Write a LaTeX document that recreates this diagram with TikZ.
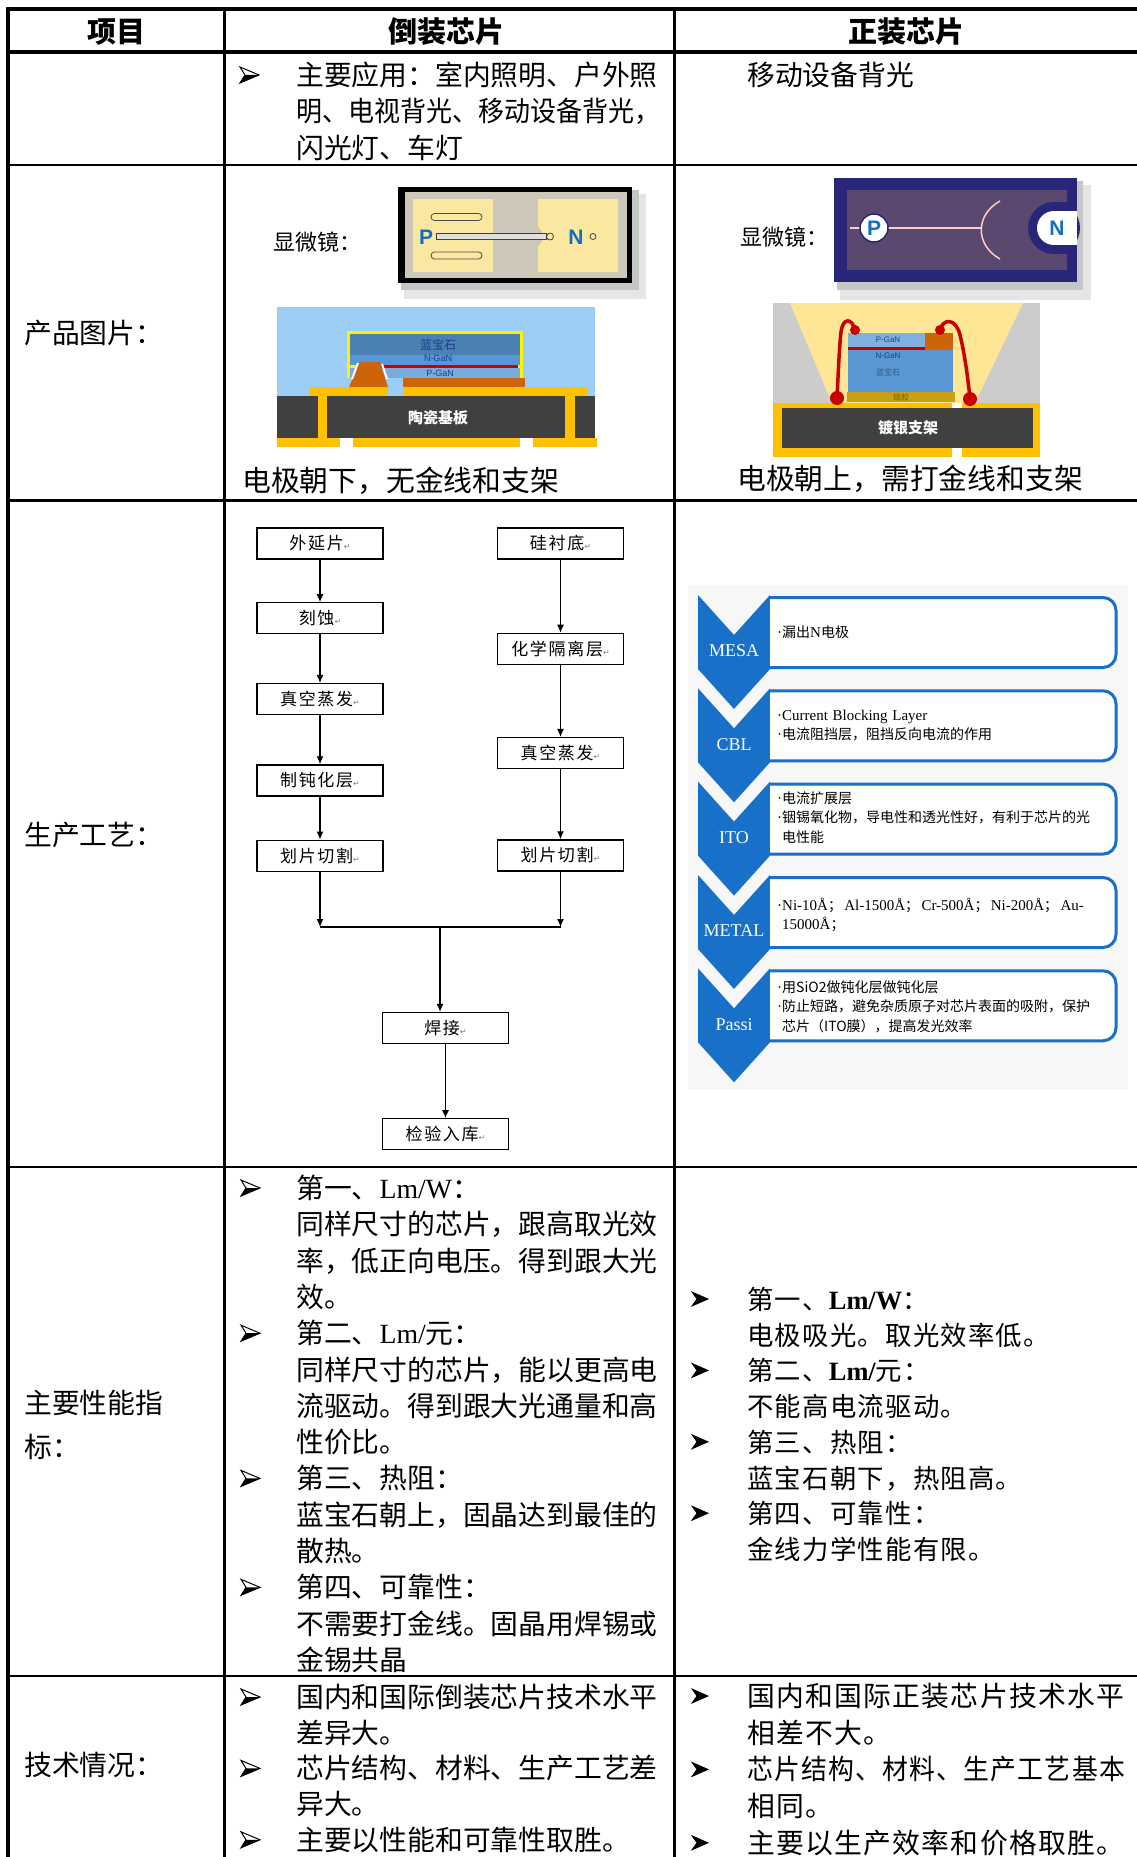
\documentclass[tikz,border=0pt]{standalone}
\usepackage{fontspec}
\usepackage{graphicx}
\setmainfont{Liberation Serif}
\newfontfamily\cjk{Noto Sans CJK SC}
\newfontfamily\cjkw[LetterSpace=4.7]{Noto Sans CJK SC}
\newfontfamily\flowfont[LetterSpace=10]{Noto Sans CJK SC}
\newfontfamily\lat{Liberation Serif}
\newfontfamily\sans{Liberation Sans}
\newfontfamily\sym{DejaVu Sans}
\usetikzlibrary{positioning,arrows.meta}

\definecolor{chevblue}{RGB}{24,112,200}
\definecolor{skyblue}{RGB}{155,205,245}
\definecolor{chipblue}{RGB}{88,150,212}
\definecolor{padorange}{RGB}{205,100,10}
\definecolor{goldy}{RGB}{255,192,0}
\definecolor{subgray}{RGB}{64,64,64}
\definecolor{padyellow}{RGB}{250,232,160}
\definecolor{wafergray}{RGB}{205,200,185}
\definecolor{navy}{RGB}{40,38,120}
\definecolor{mauve}{RGB}{90,72,110}
\definecolor{wirered}{RGB}{200,0,0}
\definecolor{conecol}{RGB}{255,230,150}
\definecolor{glue}{RGB}{200,160,20}
\definecolor{pblue}{RGB}{20,110,190}
\definecolor{txtblue}{RGB}{30,60,140}

\newcommand{\ret}{{\sym\fontsize{8}{8}\selectfont\color{gray}↵}}
\newcommand{\dt}{{\lat\fontsize{15}{15}\selectfont ·}}

\begin{document}
\begin{tikzpicture}[x=1pt, y=-1pt, every node/.style={inner sep=0pt},
    rule/.style={line width=2.5pt},
    thickrule/.style={line width=4pt},
    head/.style={anchor=base, font=\cjk\bfseries\fontsize{29}{29}\selectfont},
    celltext/.style={anchor=base west, text width=420pt, align=left, font=\cjk\fontsize{27.8}{36.3}\selectfont},
    caption/.style={anchor=base west, font=\cjk\fontsize{28.8}{28.8}\selectfont},
    micro/.style={anchor=base west, font=\cjk\fontsize{22}{22}\selectfont},
    pole/.style={text=pblue, font=\sans\bfseries\fontsize{21}{21}\selectfont},
    pkg/.style={text=white, font=\cjk\bfseries\fontsize{15}{15}\selectfont},
    layer/.style={text=txtblue, font=\sans\fontsize{9}{9}\selectfont},
    flowbox/.style={draw, line width=1.3pt, minimum width=126pt, minimum height=31pt, font=\flowfont\fontsize{17}{17}\selectfont},
    flowarrow/.style={-{Latex[length=8pt,width=7pt]}, line width=1.2pt},
    chevlabel/.style={text=white, font=\lat\fontsize{18}{18}\selectfont},
    infobox/.style={fill=white, draw=chevblue, line width=3pt},
    infotext/.style={anchor=base west, text width=345pt, align=left, font=\cjk\fontsize{14}{19.5}\selectfont},
    wire/.style={draw=wirered, line width=3.5pt},
    arrowbul/.pic={
      \filldraw[line width=1pt, fill=white] (0,-8) -- (19,0) -- (0,8) -- (5,0) -- cycle;
      \fill (5,0) -- (19,0) -- (0,8) -- cycle;
    },
    solidbul/.pic={
      \filldraw[line width=0.8pt] (0,-7) -- (16,0) -- (0,7) -- (5,0) -- cycle;
    }]

\useasboundingbox (0,0) rectangle (1137,1857);
\clip (0,0) rectangle (1137,1857);
\fill[white] (0,0) rectangle (1137,1857);

% table rules
\draw[thickrule] (6,9.5) -- (1140,9.5);
\draw[thickrule] (6,52) -- (1140,52);
\draw[rule] (8,165) -- (1140,165);
\draw[rule] (8,500.5) -- (1140,500.5);
\draw[rule] (8,1167) -- (1140,1167);
\draw[rule] (8,1676) -- (1140,1676);
\draw[thickrule] (8,7.5) -- (8,1860);
\draw[rule] (224.5,9.5) -- (224.5,1860);
\draw[rule] (674.5,9.5) -- (674.5,1860);

% header
\node[head] (h1) at (116,43) {项目};
\node[head] (h2) at (446,43) {倒装芯片};
\node[head] (h3) at (906,43) {正装芯片};

% first column
\node[celltext] (l2) at (24,343.5) {产品图片：};
\node[celltext] (l3) at (24,845.5) {生产工艺：};
\node[celltext, font=\cjk\fontsize{27.8}{44}\selectfont] (l4) at (24,1413.5) {主要性能指\\标：};
\node[celltext] (l5) at (24,1775.5) {技术情况：};

% application row
\pic at (240,75) {arrowbul};
\node[celltext] (t12) at (296,85.5) {主要应用：室内照明、户外照\\\scalebox{0.935}[1]{明、电视背光、移动设备背光，}\\闪光灯、车灯};
\node[celltext] (t13) at (747,85.5) {移动设备背光};

% flip chip: microscope view
\node[micro] (m2) at (273,250.5) {显微镜：};
\fill[gray!20] (404,194) rectangle (646,299);
\fill[gray!45] (401,190) rectangle (639,290);
\fill[black] (398,187) rectangle (632,283);
\fill[wafergray] (405,192) rectangle (627,278);
\fill[padyellow] (413,199) rectangle (493,272);
\fill[padyellow] (538,199) -- (618,199) -- (618,272) -- (538,272) -- (538,246) .. controls (545,241) and (545,232) .. (538,227) -- cycle;
\draw[gray!60!black, line width=0.8pt, rounded corners=3.5pt] (431,213.5) rectangle (482,220.5);
\draw[gray!60!black, line width=0.8pt, rounded corners=3.5pt] (431,252) rectangle (482,259);
\filldraw[fill=gray!25, draw=gray!50!black, line width=0.8pt] (436,233.5) rectangle (546,239.5);
\filldraw[fill=padyellow, draw=gray!50!black, line width=0.8pt] (550,236.5) circle (3.5);
\draw[gray!50!black, line width=0.8pt] (593,236.5) circle (3);
\node[pole] (pL) at (426,237) {P};
\node[pole] (nL) at (576,237) {N};

% flip chip: cross section
\fill[skyblue] (277,307) rectangle (595,396);
\fill[yellow] (347,331) rectangle (523,378);
\fill[chipblue!85!black] (350,334) rectangle (520,355);
\fill[chipblue] (350,355) rectangle (520,365);
\fill[chipblue!80!white] (350,368) rectangle (520,378);
\fill[wirered] (356,365) rectangle (518,368);
\node[layer, font=\cjk\fontsize{12}{12}\selectfont] (sa) at (438,345) {蓝宝石};
\node[layer] (ng) at (438,358) {N-GaN};
\node[layer] (pg) at (440,373) {P-GaN};
\fill[padorange] (349,387) -- (360,362) -- (380,362) -- (388,387) -- cycle;
\draw[white, line width=2pt] (352,379) -- (358,363);
\draw[white, line width=2pt] (382,364) -- (387,379);
\fill[padorange] (403,378) rectangle (525,388);
\fill[goldy] (310,387) rectangle (388,397);
\fill[goldy] (403,387) rectangle (587,397);
\fill[subgray] (277,396) rectangle (595,438);
\fill[goldy] (318,396) rectangle (327,438);
\fill[goldy] (565,396) rectangle (575,438);
\fill[goldy] (277,438) rectangle (340,447);
\fill[goldy] (353,438) rectangle (520,447);
\fill[goldy] (533,438) rectangle (597,447);
\node[pkg] (tc) at (438,418) {陶瓷基板};
\node[caption] (c2) at (242,491) {电极朝下，无金线和支架};

% wire bond chip: microscope view
\node[micro] (m3) at (740,245.5) {显微镜：};
\fill[gray!20] (840,185) rectangle (1091,300);
\fill[gray!45] (837,181) rectangle (1083,290);
\fill[navy] (834,178) rectangle (1077,282);
\fill[mauve] (847,190) rectangle (1067,270);
\fill[navy] (1054,228) circle (26);
\fill[navy] (1054,202) rectangle (1077,254);
\fill[white] (1054,228) circle (17);
\fill[white] (1054,211) rectangle (1077,245);
\draw[red!20!white, line width=1.5pt] (850,228) -- (982,228);
\draw[red!20!white, line width=1.5pt] (1000,201) .. controls (975,215) and (975,245) .. (1000,259);
\filldraw[fill=white, draw=navy, line width=1.5pt] (874,228) circle (14);
\node[pole] (pR) at (874,228) {P};
\node[pole] (nR) at (1057,228) {N};

% wire bond chip: cross section
\fill[gray!40] (773,303) rectangle (1040,403);
\fill[conecol] (790,303) -- (1023,303) -- (975,403) -- (832,403) -- cycle;
\fill[glue] (847,392) rectangle (955,402);
\node[layer, text=glue!60!black, font=\cjk\fontsize{8}{8}\selectfont] (gl) at (901,397) {银胶};
\fill[chipblue] (848,333) rectangle (953,392);
\fill[chipblue!75!white] (848,333) rectangle (925,347);
\fill[padorange] (925,333) rectangle (953,350);
\fill[wirered] (848,346.5) rectangle (925,349.5);
\node[layer, font=\sans\fontsize{8}{8}\selectfont] (pg3) at (888,340) {P-GaN};
\node[layer, font=\sans\fontsize{8}{8}\selectfont] (ng3) at (888,356) {N-GaN};
\node[layer, text=chipblue!60!black, font=\cjk\fontsize{8}{8}\selectfont] (sa3) at (888,372) {蓝宝石};
\draw[wire] (855,330) .. controls (852,318) and (843,317) .. (841,332) .. controls (839,350) and (838,380) .. (837,398);
\draw[wire] (940,330) .. controls (943,318) and (956,318) .. (960,335) .. controls (965,355) and (968,380) .. (970,398);
\fill[wirered] (855,330) circle (5);
\fill[wirered] (940,330) circle (5);
\fill[goldy] (773,403) rectangle (952,457);
\fill[goldy] (962,403) rectangle (1040,457);
\fill[subgray] (782,408) rectangle (1033,448);
\fill[wirered] (837,398) circle (7);
\fill[wirered] (970,399) circle (7);
\node[pkg] (zj) at (908,428) {镀银支架};
\node[caption] (c3) at (737,489) {电极朝上，需打金线和支架};

% flip chip process flow
\node[flowbox] (wy) at (320,543.5) {外延片\ret};
\node[flowbox, below=42.5pt of wy] (ks) {刻蚀\ret};
\node[flowbox, below=48.5pt of ks] (zk1) {真空蒸发\ret};
\node[flowbox, below=49pt of zk1] (dh) {制钝化层\ret};
\node[flowbox, below=43pt of dh] (hp1) {划片切割\ret};
\node[flowbox] (gc) at (560.5,543.5) {硅衬底\ret};
\node[flowbox, below=73pt of gc] (hx) {化学隔离层\ret};
\node[flowbox, below=72pt of hx] (zk2) {真空蒸发\ret};
\node[flowbox, below=70pt of zk2] (hp2) {划片切割\ret};
\node[flowbox] (hj) at (445.5,1028) {焊接\ret};
\node[flowbox, below=74pt of hj] (jy) {检验入库\ret};

\draw[flowarrow] (wy) -- (ks);
\draw[flowarrow] (ks) -- (zk1);
\draw[flowarrow] (zk1) -- (dh);
\draw[flowarrow] (dh) -- (hp1);
\draw[flowarrow] (gc) -- (hx);
\draw[flowarrow] (hx) -- (zk2);
\draw[flowarrow] (zk2) -- (hp2);

% merge both branches
\coordinate (mL) at (320,927);
\coordinate (mR) at (560.5,927);
\coordinate (mC) at (440,927);
\draw[flowarrow] (hp1) -- (mL);
\draw[flowarrow] (hp2) -- (mR);
\draw[line width=1.2pt] (mL) -- (mR);
\draw[flowarrow] (mC) -- (mC |- hj.north);
\draw[flowarrow] (hj) -- (jy);

% wire bond chip process steps
\fill[gray!6] (688,585) rectangle (1128,1090);
\foreach \lab/\t [count=\i] in {MESA/595, CBL/688.3, ITO/781.6, METAL/875, Passi/968.3} {
  \fill[chevblue] (698,\t) -- (734,\t+40) -- (770,\t) -- (770,\t+74) -- (734,\t+114) -- (698,\t+74) -- cycle;
  \node[chevlabel] (cv\i) at (734,\t+56) {\lab};
  \filldraw[infobox] (770,\t+2.5) [rounded corners=13pt] -- (1116,\t+2.5) -- (1116,\t+72.5) [sharp corners] -- (770,\t+72.5);
}
\node[infotext] (i1) at (777,637.3) {\dt 漏出{\lat\fontsize{15}{15}\selectfont N}电极};
\node[infotext] (i2) at (777,720) {\dt{\lat\fontsize{15}{15}\selectfont Current Blocking Layer}\\\dt 电流阻挡层，阻挡反向电流的作用};
\node[infotext] (i3) at (777,803.3) {\dt 电流扩展层\\\dt 铟锡氧化物，导电性和透光性好，有利于芯片的光\\\hspace*{5pt}电性能};
\node[infotext] (i4) at (777,910) {\dt{\lat\fontsize{15}{15}\selectfont Ni-10Å}；\,{\lat\fontsize{15}{15}\selectfont Al-1500Å}；\,{\lat\fontsize{15}{15}\selectfont Cr-500Å}；\,{\lat\fontsize{15}{15}\selectfont Ni-200Å}；\,{\lat\fontsize{15}{15}\selectfont Au-}\\\hspace*{5pt}{\lat\fontsize{15}{15}\selectfont 15000Å}；};
\node[infotext] (i5) at (777,992.3) {\dt 用SiO2做钝化层做钝化层\\\dt 防止短路，避免杂质原子对芯片表面的吸附，保护\\\hspace*{5pt}芯片（ITO膜），提高发光效率};

% performance row
\foreach \by in {1188,1333.2,1478.4,1587.3}
  \pic at (241,\by) {arrowbul};
\node[celltext] (t42) at (296,1198.5) {第一、{\lat Lm/W}：\\同样尺寸的芯片，跟高取光效\\率，低正向电压。得到跟大光\\效。\\第二、{\lat Lm/}元：\\同样尺寸的芯片，能以更高电\\流驱动。得到跟大光通量和高\\性价比。\\第三、热阻：\\蓝宝石朝上，固晶达到最佳的\\散热。\\第四、可靠性：\\不需要打金线。固晶用焊锡或\\金锡共晶};
\foreach \by in {1299,1370.4,1441.8,1513.2}
  \pic at (692,\by) {solidbul};
\node[celltext, font=\cjkw\fontsize{26.4}{35.7}\selectfont] (t43) at (747,1309.5) {第一、{\lat\bfseries Lm/W}：\\电极吸光。取光效率低。\\第二、{\lat\bfseries Lm/}元：\\不能高电流驱动。\\第三、热阻：\\蓝宝石朝下，热阻高。\\第四、可靠性：\\金线力学性能有限。};

% technology row
\foreach \by in {1697,1768.4,1839.8}
  \pic at (241,\by) {arrowbul};
\node[celltext, font=\cjk\fontsize{27.8}{35.7}\selectfont] (t52) at (296,1707.5) {国内和国际倒装芯片技术水平\\差异大。\\芯片结构、材料、生产工艺差\\异大。\\主要以性能和可靠性取胜。};
\foreach \by in {1696,1769.4,1842.8}
  \pic at (692,\by) {solidbul};
\node[celltext, font=\cjkw\fontsize{27.8}{36.7}\selectfont] (t53) at (747,1706.5) {国内和国际正装芯片技术水平\\相差不大。\\\scalebox{0.93}[1]{芯片结构、材料、生产工艺基本}\\相同。\\主要以生产效率和价格取胜。};

\end{tikzpicture}
\end{document}
